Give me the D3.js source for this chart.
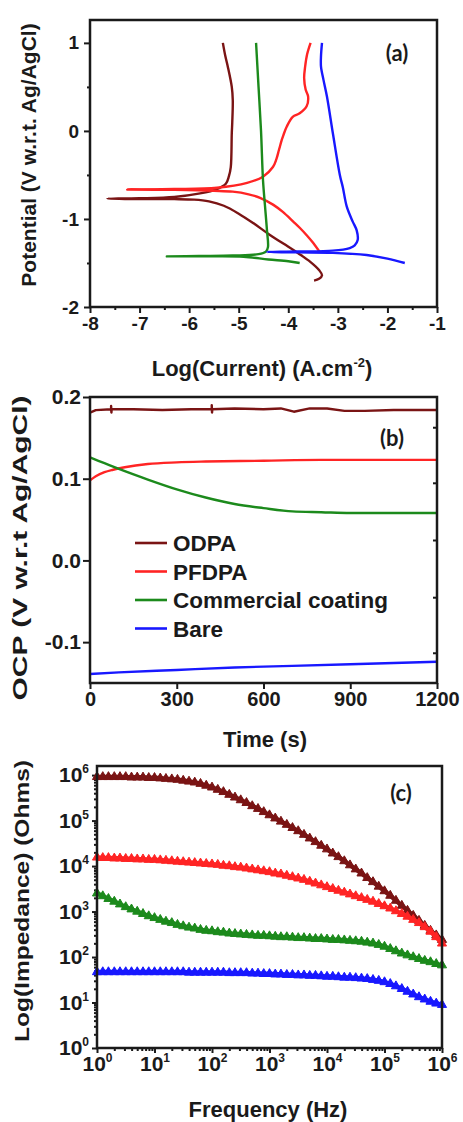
<!DOCTYPE html>
<html>
<head>
<meta charset="utf-8">
<script src="https://d3js.org/d3.v7.min.js"></script>
<style>
body { margin: 0; background: #fff; }
text { font-family: "Liberation Sans", Arial, sans-serif; font-weight: bold; fill: #1a1a1a; }
.tag { font-family: Lato, "Open Sans", sans-serif; }
</style>
</head>
<body>
<svg id="chart" width="463" height="1122"></svg>
<script>
// ---- data ----
var seriesNames = ["ODPA", "PFDPA", "Commercial coating", "Bare"];
var seriesColors = ["#7a1414", "#ff2424", "#1c8a1c", "#1818ff"];

// (a) Tafel plots: [log current, potential]
var odpaTafel = [[-5.32,1.0],[-5.27,0.85],[-5.22,0.73],[-5.14,0.5],[-5.12,0.35],[-5.13,0.1],[-5.14,-0.03],
  [-5.16,-0.41],[-5.2,-0.52],[-5.26,-0.6],[-5.44,-0.66],[-5.78,-0.71],[-6.3,-0.75],[-7.0,-0.765],[-7.65,-0.77],
  [-7.0,-0.775],[-6.3,-0.775],[-5.9,-0.78],[-5.6,-0.8],[-5.3,-0.85],[-5.0,-0.94],[-4.7,-1.05],[-4.4,-1.17],
  [-4.1,-1.28],[-3.8,-1.39],[-3.55,-1.49],[-3.38,-1.58],[-3.32,-1.64],[-3.38,-1.68],[-3.48,-1.7]];
var pfdpaTafel = [[-3.55,1.0],[-3.62,0.87],[-3.66,0.73],[-3.68,0.6],[-3.65,0.47],[-3.6,0.39],[-3.63,0.28],
  [-3.77,0.2],[-3.91,0.16],[-4.03,0.05],[-4.1,-0.05],[-4.13,-0.1],[-4.19,-0.22],[-4.24,-0.32],[-4.31,-0.41],
  [-4.51,-0.52],[-4.83,-0.59],[-5.44,-0.645],[-6.3,-0.66],[-7.25,-0.665],[-6.3,-0.67],[-5.5,-0.68],[-5.12,-0.69],
  [-4.8,-0.72],[-4.57,-0.76],[-4.3,-0.84],[-4.11,-0.92],[-3.9,-1.03],[-3.77,-1.1],[-3.62,-1.19],[-3.5,-1.27],[-3.36,-1.38]];
var commTafel = [[-4.65,1.0],[-4.6,0.5],[-4.55,0.0],[-4.51,-0.56],[-4.47,-0.85],[-4.43,-1.13],[-4.41,-1.32],
  [-4.45,-1.37],[-4.6,-1.4],[-5.12,-1.415],[-5.8,-1.42],[-6.45,-1.425],[-5.5,-1.425],[-4.9,-1.43],[-4.4,-1.46],
  [-4.0,-1.48],[-3.77,-1.5]];
var bareTafel = [[-3.32,1.0],[-3.34,0.85],[-3.34,0.73],[-3.29,0.58],[-3.22,0.39],[-3.1,-0.03],[-2.96,-0.5],
  [-2.9,-0.64],[-2.82,-0.86],[-2.7,-1.03],[-2.62,-1.13],[-2.6,-1.24],[-2.66,-1.3],[-2.76,-1.33],[-3.1,-1.36],
  [-3.8,-1.37],[-4.43,-1.375],[-3.8,-1.38],[-3.1,-1.385],[-2.42,-1.41],[-2.0,-1.45],[-1.65,-1.5]];
var tafelXTicks = [-8,-7,-6,-5,-4,-3,-2,-1];
var tafelYTicks = [-2,-1,0,1];

// (b) OCP vs time: [time s, OCP V]
var odpaOcp = [[0,0.181],[20,0.184],[73,0.185],[73,0.189],[74,0.181],[75,0.185],[150,0.185],[250,0.184],
  [350,0.185],[421,0.185],[421,0.19],[422,0.181],[423,0.185],[500,0.186],[600,0.185],[660,0.186],[705,0.182],
  [760,0.186],[820,0.186],[880,0.183],[950,0.183],[1050,0.184],[1200,0.184]];
var pfdpaOcp = [[0,0.098],[20,0.103],[50,0.108],[80,0.111],[120,0.114],[200,0.118],[300,0.12],[400,0.121],
  [600,0.122],[800,0.123],[1000,0.123],[1200,0.123]];
var commOcp = [[0,0.126],[50,0.119],[100,0.112],[200,0.099],[300,0.087],[400,0.077],[500,0.069],[600,0.064],
  [700,0.06],[800,0.059],[900,0.058],[1000,0.058],[1200,0.058]];
var bareOcp = [[0,-0.139],[100,-0.137],[300,-0.134],[500,-0.131],[700,-0.129],[900,-0.127],[1200,-0.124]];
var ocpXTicks = [0,300,600,900,1200];
var ocpYTicks = [-0.1,0.0,0.1,0.2];
var ocpRightTicks = [0.163,0.095,0.025,-0.045,-0.113];

// (c) Bode plots: frequency (Hz) and log10 |Z|
var freq = [1,1.26,1.58,2,2.51,3.16,3.98,5.01,6.31,7.94,
  10,12.6,15.8,20,25.1,31.6,39.8,50.1,63.1,79.4,
  100,126,158,200,251,316,398,501,631,794,
  1e3,1260,1580,2e3,2510,3160,3980,5010,6310,7940,
  1e4,12600,15800,2e4,25100,31600,39800,50100,63100,79400,
  1e5,126000,158000,2e5,251000,316000,398000,501000,631000,794000,
  1e6];
var odpaLogZ = [5.96,5.96,5.96,5.96,5.96,5.96,5.95,5.95,5.95,5.94,
  5.94,5.93,5.92,5.91,5.90,5.88,5.86,5.84,5.81,5.77,
  5.73,5.68,5.63,5.57,5.51,5.45,5.39,5.32,5.26,5.19,
  5.12,5.05,4.98,4.91,4.84,4.77,4.69,4.61,4.53,4.45,
  4.37,4.28,4.20,4.11,4.02,3.93,3.84,3.74,3.65,3.55,
  3.45,3.35,3.24,3.13,3.02,2.91,2.80,2.69,2.58,2.48,
  2.38];
var pfdpaLogZ = [4.19,4.18,4.18,4.17,4.17,4.16,4.16,4.15,4.15,4.14,
  4.14,4.13,4.12,4.11,4.10,4.09,4.08,4.07,4.06,4.05,
  4.04,4.03,4.01,4.00,3.98,3.97,3.95,3.93,3.91,3.89,
  3.87,3.84,3.82,3.79,3.76,3.73,3.70,3.66,3.62,3.58,
  3.54,3.50,3.46,3.42,3.38,3.34,3.30,3.26,3.22,3.17,
  3.12,3.07,3.01,2.95,2.89,2.82,2.75,2.66,2.56,2.44,
  2.30];
var commLogZ = [3.40,3.34,3.28,3.22,3.16,3.10,3.05,3.00,2.95,2.90,
  2.86,2.82,2.78,2.75,2.71,2.68,2.65,2.63,2.60,2.58,
  2.57,2.55,2.54,2.52,2.51,2.50,2.49,2.48,2.47,2.47,
  2.46,2.45,2.44,2.44,2.43,2.42,2.42,2.41,2.40,2.40,
  2.39,2.38,2.38,2.37,2.36,2.35,2.34,2.32,2.30,2.27,
  2.23,2.18,2.13,2.08,2.04,2.00,1.96,1.92,1.89,1.85,
  1.82];
var bareLogZ = [1.67,1.67,1.67,1.67,1.67,1.67,1.67,1.67,1.67,1.67,
  1.67,1.67,1.67,1.67,1.67,1.67,1.66,1.66,1.66,1.66,
  1.66,1.66,1.66,1.65,1.65,1.65,1.65,1.64,1.64,1.63,
  1.63,1.62,1.62,1.61,1.61,1.60,1.60,1.59,1.59,1.58,
  1.57,1.57,1.56,1.55,1.55,1.54,1.53,1.52,1.50,1.48,
  1.45,1.41,1.36,1.30,1.24,1.18,1.12,1.07,1.02,0.98,
  0.95];
var bodeDecades = [1,10,100,1e3,1e4,1e5,1e6];

var svg = d3.select("#chart");
svg.append("rect").attr("width",463).attr("height",1122).attr("fill","#fff");

function styleAxis(g, fs) {
  g.select(".domain").remove();
  g.selectAll(".tick line").attr("stroke","#1a1a1a").attr("stroke-width",2);
  g.selectAll(".tick text").attr("font-size",fs).attr("fill","#1a1a1a");
}
function box(x, y) {
  svg.append("rect")
    .attr("x",x.range()[0]).attr("y",y.range()[1])
    .attr("width",x.range()[1]-x.range()[0]).attr("height",y.range()[0]-y.range()[1])
    .attr("fill","none").attr("stroke","#1a1a1a").attr("stroke-width",2.5);
}
function minusFmt(d) { return String(d); }

// ---------- (a) ----------
var xA = d3.scaleLinear().domain([-8,-1]).range([90,437]);
var yA = d3.scaleLinear().domain([-2,1.26]).range([307,20]);

svg.append("g").attr("transform","translate(0,307)")
  .call(d3.axisBottom(xA).tickValues(tafelXTicks).tickSize(6).tickPadding(4).tickFormat(minusFmt))
  .call(styleAxis, 19);
svg.append("g").attr("transform","translate(0,307)")
  .call(d3.axisBottom(xA).tickValues(tafelXTicks.slice(0,-1).map(function(d){return d+0.5;})).tickSize(3).tickFormat(""))
  .call(styleAxis, 19);
svg.append("g").attr("transform","translate(90,0)")
  .call(d3.axisLeft(yA).tickValues(tafelYTicks).tickSize(6).tickPadding(5).tickFormat(minusFmt))
  .call(styleAxis, 19);
svg.append("g").attr("transform","translate(90,0)")
  .call(d3.axisLeft(yA).tickValues([-1.5,-0.5,0.5]).tickSize(3).tickFormat(""))
  .call(styleAxis, 19);

var lineA = d3.line().x(function(d){return xA(d[0]);}).y(function(d){return yA(d[1]);})
  .curve(d3.curveCatmullRom.alpha(0.5));
[odpaTafel, pfdpaTafel, commTafel, bareTafel].forEach(function(s, i) {
  svg.append("path").datum(s).attr("d", lineA).attr("fill","none")
    .attr("stroke", seriesColors[i]).attr("stroke-width",2.4).attr("stroke-linejoin","round");
});
box(xA, yA);

svg.append("text").attr("class","tag").attr("x",397).attr("y",61).attr("text-anchor","middle")
  .attr("font-size",22).text("(a)");
svg.append("text").attr("transform","translate(36,155) rotate(-90)").attr("text-anchor","middle")
  .attr("font-size",21).text("Potential (V w.r.t. Ag/AgCl)");
var tA = svg.append("text").attr("x",262).attr("y",376).attr("text-anchor","middle").attr("font-size",22);
tA.append("tspan").text("Log(Current) (A.cm");
tA.append("tspan").attr("font-size",13).attr("dy",-9).text("-2");
tA.append("tspan").attr("dy",9).text(")");

// ---------- (b) ----------
var xB = d3.scaleLinear().domain([0,1200]).range([90,437]);
var yB = d3.scaleLinear().domain([-0.15,0.2]).range([683,397]);

svg.append("g").attr("transform","translate(0,683)")
  .call(d3.axisBottom(xB).tickValues(ocpXTicks).tickSize(6).tickPadding(3).tickFormat(minusFmt))
  .call(styleAxis, 20);
svg.append("g").attr("transform","translate(90,0)")
  .call(d3.axisLeft(yB).tickValues(ocpYTicks).tickSize(7).tickPadding(2).tickFormat(function(d){return d.toFixed(1);}))
  .call(styleAxis, 21);
svg.append("g").attr("transform","translate(437,0)")
  .call(d3.axisLeft(yB).tickValues(ocpRightTicks).tickSize(4).tickFormat(""))
  .call(styleAxis, 20);

var lineB = d3.line().x(function(d){return xB(d[0]);}).y(function(d){return yB(d[1]);});
var smoothB = d3.line().x(function(d){return xB(d[0]);}).y(function(d){return yB(d[1]);}).curve(d3.curveMonotoneX);
[odpaOcp, pfdpaOcp, commOcp, bareOcp].forEach(function(s, i) {
  svg.append("path").datum(s).attr("d", i === 0 ? lineB : smoothB).attr("fill","none")
    .attr("stroke", seriesColors[i]).attr("stroke-width",2.4).attr("stroke-linejoin","round");
});
box(xB, yB);

svg.append("text").attr("class","tag").attr("x",392).attr("y",446).attr("text-anchor","middle")
  .attr("font-size",22).text("(b)");
svg.append("text").attr("transform","translate(27,548) rotate(-90)").attr("text-anchor","middle")
  .attr("font-size",21).attr("textLength",305).attr("lengthAdjust","spacingAndGlyphs")
  .text("OCP (V w.r.t Ag/AgCl)");
svg.append("text").attr("x",265).attr("y",747).attr("text-anchor","middle").attr("font-size",22).text("Time (s)");

var legend = svg.append("g");
seriesNames.forEach(function(name, i) {
  var ly = 543 + i * 28.5;
  legend.append("line").attr("x1",135).attr("x2",167).attr("y1",ly).attr("y2",ly)
    .attr("stroke", seriesColors[i]).attr("stroke-width",2.6);
  legend.append("text").attr("x",173).attr("y",ly + 8).attr("font-size",22.5).text(name);
});

// ---------- (c) ----------
var xC = d3.scaleLog().domain([1,1e6]).range([97,442]);
var yC = d3.scaleLog().domain([1,Math.pow(10,6.2)]).range([1048,766]);
var minorC = [];
bodeDecades.slice(0,-1).forEach(function(d){ [2,3,4,5,6,7,8,9].forEach(function(m){ minorC.push(d*m); }); });

function supLabels(g) {
  g.selectAll(".tick text").each(function(d) {
    var t = d3.select(this);
    t.text(null);
    t.append("tspan").text("10");
    t.append("tspan").attr("font-size",12).attr("dy",-9).text(Math.round(Math.log10(d)));
  });
}
svg.append("g").attr("transform","translate(0,1048)")
  .call(d3.axisBottom(xC).tickValues(bodeDecades).tickSize(5).tickPadding(3))
  .call(styleAxis, 21).call(supLabels);
svg.append("g").attr("transform","translate(0,1048)")
  .call(d3.axisBottom(xC).tickValues(minorC).tickSize(3).tickFormat(""))
  .call(styleAxis, 20);
svg.append("g").attr("transform","translate(97,0)")
  .call(d3.axisLeft(yC).tickValues(bodeDecades).tickSize(5).tickPadding(3))
  .call(styleAxis, 21).call(supLabels);
svg.append("g").attr("transform","translate(97,0)")
  .call(d3.axisLeft(yC).tickValues(minorC).tickSize(3).tickFormat(""))
  .call(styleAxis, 20);

var lineC = d3.line().x(function(d){return xC(d[0]);}).y(function(d){return yC(d[1]);});
var tri = d3.symbol().type(d3.symbolTriangle).size(36);
[odpaLogZ, pfdpaLogZ, commLogZ, bareLogZ].forEach(function(s, i) {
  var pts = freq.map(function(f, k){ return [f, Math.pow(10, s[k])]; });
  svg.append("path").datum(pts).attr("d", lineC).attr("fill","none")
    .attr("stroke", seriesColors[i]).attr("stroke-width",4.5);
  svg.append("g").selectAll("path").data(pts).enter().append("path")
    .attr("d", tri)
    .attr("transform", function(d){ return "translate(" + xC(d[0]) + "," + yC(d[1]) + ")"; })
    .attr("fill", seriesColors[i]).attr("stroke", seriesColors[i]).attr("stroke-width",1);
});
box(xC, yC);

svg.append("text").attr("class","tag").attr("x",401).attr("y",801).attr("text-anchor","middle")
  .attr("font-size",22).text("(c)");
svg.append("text").attr("transform","translate(29,901) rotate(-90)").attr("text-anchor","middle")
  .attr("font-size",21).attr("textLength",282).attr("lengthAdjust","spacingAndGlyphs")
  .text("Log(Impedance) (Ohms)");
svg.append("text").attr("x",268).attr("y",1117).attr("text-anchor","middle").attr("font-size",22).text("Frequency (Hz)");
</script>
</body>
</html>
